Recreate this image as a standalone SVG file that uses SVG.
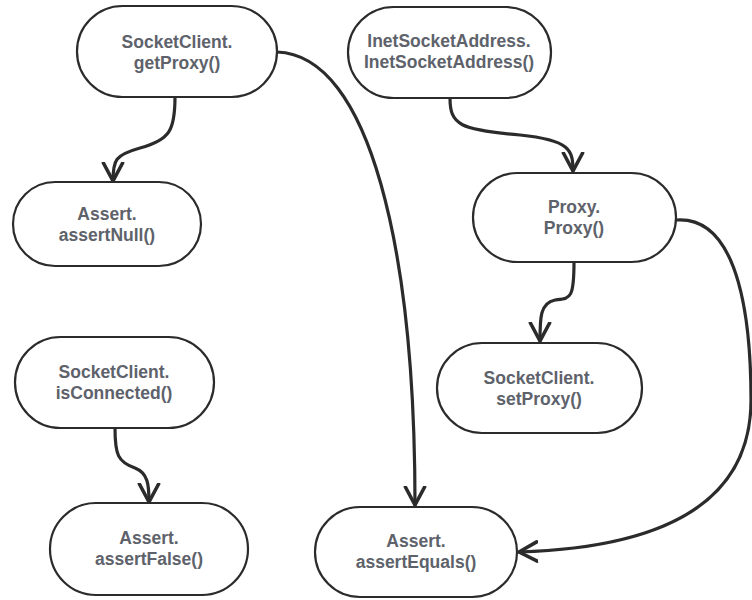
<svg xmlns="http://www.w3.org/2000/svg" width="752" height="600" viewBox="0 0 752 600">
  <defs>
    <style>
      .node rect { fill: #ffffff; stroke: #2b2b2b; stroke-width: 2.2; }
      .node text { font-family: "Liberation Sans", Arial, sans-serif; font-size: 17.5px; font-weight: bold; fill: #5e626b; text-anchor: middle; }
      .edge { fill: none; stroke: #2b2b2b; stroke-width: 3.2; stroke-linecap: round; marker-end: url(#arrow); }
    </style>
    <marker id="arrow" markerUnits="userSpaceOnUse" markerWidth="24" markerHeight="24" viewBox="-16 -10 20 20" refX="0" refY="0" orient="auto">
      <path d="M-15,-8 L0,0 L-15,8" fill="none" stroke="#2b2b2b" stroke-width="3" stroke-linecap="round" stroke-linejoin="round"/>
    </marker>
  </defs>

  <!-- call-sequence edges -->
  <g id="edges">
    <path class="edge" d="M175,97 C175,130 170,140 140,148 C115,155 113,160 113,181"/>
    <path class="edge" d="M277,52 C370,55 415,250 415,505"/>
    <path class="edge" d="M450,98 C450,125 460,130 520,135 C570,140 573,150 573,171"/>
    <path class="edge" d="M574,262 C574,300 570,298 555,300 C540,303 540,318 540,341"/>
    <path class="edge" d="M676,220 C742,215 751,330 751,400 C751,510 650,548 519,552"/>
    <path class="edge" d="M115,428 C115,455 118,462 135,468 C148,473 149,485 149,502"/>
  </g>

  <g id="getProxy" class="node">
    <rect x="77" y="6" width="200" height="91" rx="45.5"/>
    <text x="177" y="48">SocketClient.</text>
    <text x="177" y="69">getProxy()</text>
  </g>

  <g id="assertNull" class="node">
    <rect x="13" y="182" width="188" height="84" rx="42"/>
    <text x="107" y="220">Assert.</text>
    <text x="107" y="241">assertNull()</text>
  </g>

  <g id="inetSocketAddress" class="node">
    <rect x="348" y="7" width="203" height="91" rx="45.5"/>
    <text x="449" y="47">InetSocketAddress.</text>
    <text x="449" y="68">InetSocketAddress()</text>
  </g>

  <g id="proxy" class="node">
    <rect x="473" y="173" width="203" height="89" rx="44.5"/>
    <text x="574" y="213">Proxy.</text>
    <text x="574" y="234">Proxy()</text>
  </g>

  <g id="setProxy" class="node">
    <rect x="437" y="343" width="205" height="90" rx="45"/>
    <text x="539" y="384">SocketClient.</text>
    <text x="539" y="405">setProxy()</text>
  </g>

  <g id="isConnected" class="node">
    <rect x="15" y="337" width="199" height="91" rx="45.5"/>
    <text x="114" y="378">SocketClient.</text>
    <text x="114" y="399">isConnected()</text>
  </g>

  <g id="assertFalse" class="node">
    <rect x="50" y="503" width="198" height="92" rx="46"/>
    <text x="149" y="544">Assert.</text>
    <text x="149" y="565">assertFalse()</text>
  </g>

  <g id="assertEquals" class="node">
    <rect x="315" y="507" width="202" height="90" rx="45"/>
    <text x="416" y="547">Assert.</text>
    <text x="416" y="568">assertEquals()</text>
  </g>
</svg>
